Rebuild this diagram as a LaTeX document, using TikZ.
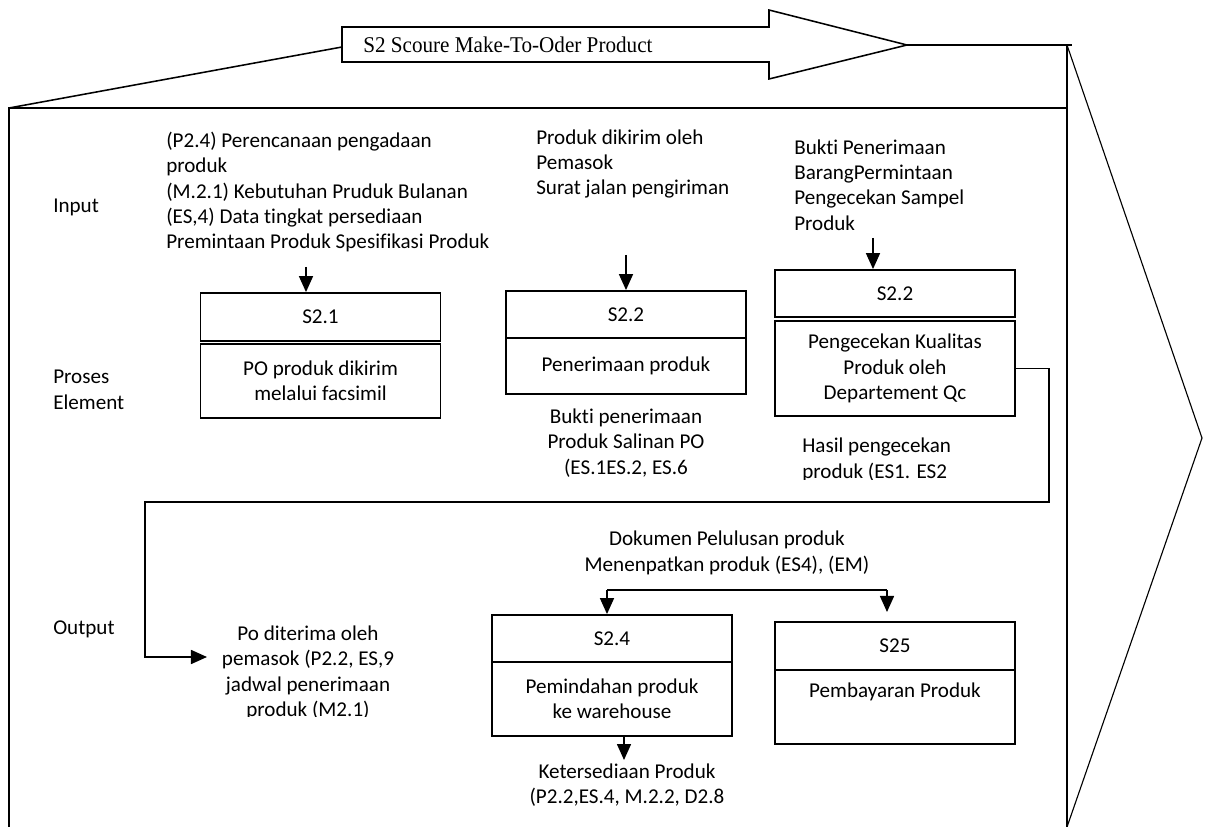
\documentclass[tikz,border=0pt]{standalone}
\usepackage{fontspec}
\setmainfont[Ligatures=NoCommon]{Carlito}
\newfontfamily\ttlfont{Liberation Serif}
\usetikzlibrary{arrows.meta}
\begin{document}
\begin{tikzpicture}[x=0.025cm,y=-0.025cm,
   every node/.style={font=\fontsize{15}{18.1}\selectfont, inner sep=0pt, align=center},
   box/.style={draw, line width=1.3pt, minimum width=6cm, minimum height=#1},
   lbl/.style={anchor=west, align=left},
   ln/.style={line width=1.1pt},
   arr/.style={ln, -{Triangle[length=0.4cm,width=0.35cm]}}]
   \useasboundingbox (0,0) rectangle (1205,827);
   \coordinate (tl) at (9,108);\coordinate (tr) at (1067,108);\coordinate (bl) at (9,827);\coordinate (br) at (1067,827);
   \coordinate (top) at (1067,45);\coordinate (tip) at (1202,438);
   \draw[ln] (342,27)--(769,27)--(769,10)--(907,45)--(769,79)--(769,62)--(342,62)--cycle;
   \node[anchor=west, font=\ttlfont\fontsize{16}{18}\selectfont] (ttl) at (363,45) {\scalebox{0.94}[1]{S2 Scoure Make-To-Oder Product}};
   \draw[ln] (342,47)--(tl);\draw[ln] (907,45)--(1072,45);
   \draw[ln] (bl)--(tl)--(tr);\draw[ln] (top)--(br);
   \draw[line width=0.8pt] (top)--(tip)--(br);
   \node[lbl] (inp) at (53,207) {Input};\node[lbl] (pro) at (53,390) {Proses\\Element};\node[lbl] (outp) at (53,629) {Output};
   \node[lbl] (in1) at (166,192) {(P2.4) Perencanaan pengadaan\\produk\\(M.2.1) Kebutuhan Pruduk Bulanan\\(ES,4) Data tingkat persediaan\\Premintaan Produk Spesifikasi Produk};
   \node[lbl] (in2) at (536,164) {Produk dikirim oleh\\Pemasok\\Surat jalan pengiriman};
   \node[lbl] (in3) at (794,185) {Bukti Penerimaan\\BarangPermintaan\\Pengecekan Sampel\\Produk};
   \node[box=1.2cm] (h21) at (320.5,317) {S2.1};\node[box=1.85cm] (b21) at (320.5,381) {PO produk dikirim\\melalui facsimil};
   \node[box=1.175cm] (h22) at (626,314.5) {S2.2};\node[box=1.4cm] (b22) at (626,366) {Penerimaan produk};
   \node[box=1.175cm] (h23) at (895,293.5) {S2.2};\node[box=2.375cm] (b23) at (895,368.5) {Pengecekan Kualitas\\Produk oleh\\Departement Qc};
   \node[box=1.175cm] (h24) at (612,638.5) {S2.4};\node[box=1.85cm] (b24) at (612,699) {Pemindahan produk\\ke warehouse};
   \node[box=1.2cm] (h25) at (895,646) {S25};\node[box=1.85cm] (b25) at (895,707) {Pembayaran Produk\\ \strut};
   \coordinate (a1) at (306,267);\draw[arr] (a1)--(a1 |- h21.north);
   \coordinate (a2) at (626,255);\draw[arr] (a2)--(h22.north);
   \coordinate (a3) at (873,238);\draw[arr] (a3)--(a3 |- h23.north);
   \node (out2) at (626,443) {Bukti penerimaan\\Produk Salinan PO\\(ES.1ES.2, ES.6};
   \begin{scope}
   \clip (790,425) rectangle (1040,479);
   \node[lbl] (out3) at (802,460) {Hasil pengecekan\\produk (ES1. ES2};
   \end{scope}
   \begin{scope}
   \clip (200,610) rectangle (420,716);
   \node (po) at (308,673) {Po diterima oleh\\pemasok (P2.2, ES,9\\jadwal penerimaan\\produk (M2.1)};
   \end{scope}
   \coordinate (p1) at (207,657);
   \draw[arr] (b23.east)--(1049,368.5)|-(145,502)|-(p1);
   \node (dok) at (727,553) {Dokumen Pelulusan produk\\Menenpatkan produk (ES4), (EM)};
   \coordinate (d1) at (607,590);\coordinate (d2) at (887,590);\coordinate (d3) at (887,612);
   \draw[ln] (d1)--(d2);\draw[arr] (d1)--(d1 |- h24.north);\draw[arr] (d2)--(d3);
   \coordinate (k1) at (624,760);\draw[arr] (k1 |- b24.south)--(k1);
   \node (ket) at (627,785) {Ketersediaan Produk\\(P2.2,ES.4, M.2.2, D2.8};
\end{tikzpicture}
\end{document}
